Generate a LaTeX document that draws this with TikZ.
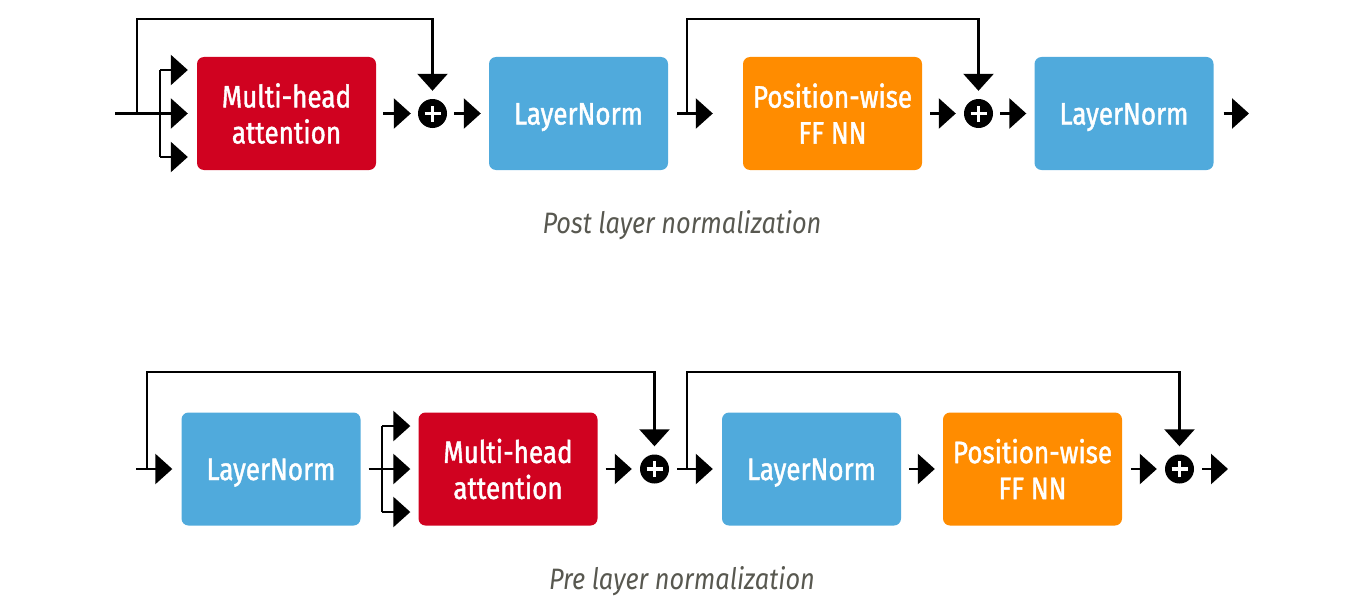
\documentclass[tikz,border=0pt]{standalone}
\usepackage{fontspec}
\setmainfont{Fira Sans}[FakeStretch=0.86]
\newfontfamily\boxfont{Fira Sans}[FakeStretch=0.84,FakeBold=1.4]
\usetikzlibrary{arrows.meta}
\definecolor{cred}{RGB}{208,2,32}
\definecolor{cblue}{RGB}{80,170,220}
\definecolor{corange}{RGB}{255,140,0}
\definecolor{cgray}{RGB}{88,88,80}
\begin{document}
\begin{tikzpicture}[x=1pt,y=-1pt,line join=miter,
  box/.style={rounded corners=7pt, minimum width=179pt, minimum height=113pt, inner sep=0pt,
    text=white, align=center, font=\boxfont\fontsize{31}{36}\selectfont},
  redbox/.style={box, fill=cred},
  bluebox/.style={box, fill=cblue, text height=22pt, text depth=0pt},
  orangebox/.style={box, fill=corange},
  ln/.style={line width=2.6pt},
  arr/.style={ln, -{Triangle[length=17pt,width=30pt]}},
  plus/.style={circle, fill=black, minimum size=29pt, inner sep=0pt,
    path picture={\draw[white,line width=3.4pt]
      ([xshift=-8pt]path picture bounding box.center) -- ([xshift=8pt]path picture bounding box.center)
      ([yshift=-8pt]path picture bounding box.center) -- ([yshift=8pt]path picture bounding box.center);}},
  caption/.style={text=cgray, font=\fontsize{29.5}{32}\selectfont\itshape}
]
\useasboundingbox (0,0) rectangle (1356,610);

% ---------- Post layer normalization ----------
\node[redbox] (m1) at (286.5,113.5) {Multi-head\\attention};
\node[bluebox] (ln1) at (578.5,113.5) {LayerNorm};
\node[orangebox] (ff1) at (832.5,113.5) {Position-wise\\FF NN};
\node[bluebox] (ln2) at (1124,113.5) {LayerNorm};
\node[plus] (p1) at (432.5,113.5) {};
\node[plus] (p2) at (978.5,113.5) {};

\coordinate (in1) at (115,113.5);
\coordinate (s1) at (137,113.5);
\coordinate (b1) at (160,113.5);
\coordinate (t1) at (0,19);
\coordinate (s2) at (687,113.5);
\coordinate (out1) at (1249,113.5);

\draw[ln] (in1) -- (b1);
\draw[ln] ([yshift=43.5pt]b1) -- ([yshift=-43.5pt]b1);
\draw[arr] ([yshift=43.5pt]b1) -- ([xshift=-9pt,yshift=43.5pt]m1.west);
\draw[arr] (b1) -- ([xshift=-9pt]m1.west);
\draw[arr] ([yshift=-43.5pt]b1) -- ([xshift=-9pt,yshift=-43.5pt]m1.west);
\draw[arr] (s1) -- (s1 |- t1) -| ([yshift=8pt]p1.north);
\draw[arr] ([xshift=7pt]m1.east) -- ([xshift=-7pt]p1.west);
\draw[arr] ([xshift=7pt]p1.east) -- ([xshift=-8pt]ln1.west);
\draw[arr] ([xshift=9pt]ln1.east) -- ([xshift=-30pt]ff1.west);
\draw[arr] (s2) -- (s2 |- t1) -| ([yshift=8pt]p2.north);
\draw[arr] ([xshift=8pt]ff1.east) -- ([xshift=-8pt]p2.west);
\draw[arr] ([xshift=7pt]p2.east) -- ([xshift=-8pt]ln2.west);
\draw[arr] ([xshift=10pt]ln2.east) -- (out1);

\node[caption] (c1) at (682,225) {Post layer normalization};

% ---------- Pre layer normalization ----------
\node[bluebox] (ln3) at (271,469) {LayerNorm};
\node[redbox] (m2) at (508,469) {Multi-head\\attention};
\node[bluebox] (ln4) at (811.5,469) {LayerNorm};
\node[orangebox] (ff2) at (1032.5,469) {Position-wise\\FF NN};
\node[plus] (p3) at (654.5,469) {};
\node[plus] (p4) at (1179.5,469) {};

\coordinate (in2) at (136,469);
\coordinate (s3) at (147,469);
\coordinate (t2) at (0,372);
\coordinate (b2) at (382,469);
\coordinate (s4) at (687,469);
\coordinate (out2) at (1228,469);

\draw[arr] (in2) -- ([xshift=-9pt]ln3.west);
\draw[arr] (s3) -- (s3 |- t2) -| ([yshift=8pt]p3.north);
\draw[ln] ([xshift=8pt]ln3.east) -- (b2);
\draw[ln] ([yshift=43pt]b2) -- ([yshift=-43pt]b2);
\draw[arr] ([yshift=43pt]b2) -- ([xshift=-8pt,yshift=43pt]m2.west);
\draw[arr] (b2) -- ([xshift=-8pt]m2.west);
\draw[arr] ([yshift=-43pt]b2) -- ([xshift=-8pt,yshift=-43pt]m2.west);
\draw[arr] ([xshift=8pt]m2.east) -- ([xshift=-8pt]p3.west);
\draw[arr] ([xshift=8pt]p3.east) -- ([xshift=-9pt]ln4.west);
\draw[arr] (s4) -- (s4 |- t2) -| ([yshift=8pt]p4.north);
\draw[arr] ([xshift=8pt]ln4.east) -- ([xshift=-8pt]ff2.west);
\draw[arr] ([xshift=9pt]ff2.east) -- ([xshift=-8pt]p4.west);
\draw[arr] ([xshift=8pt]p4.east) -- (out2);

\node[caption] (c2) at (682,581) {Pre layer normalization};
\end{tikzpicture}
\end{document}
